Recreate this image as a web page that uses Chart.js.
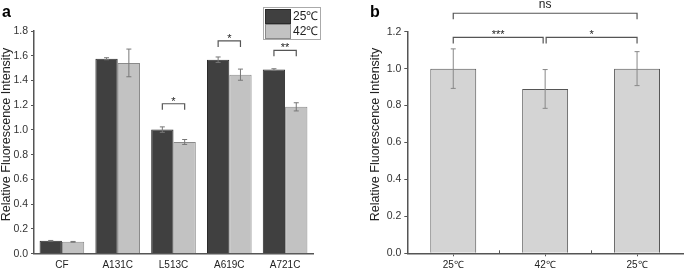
<!DOCTYPE html>
<html>
<head>
<meta charset="utf-8">
<script src="https://cdn.jsdelivr.net/npm/chart.js@4.4.1/dist/chart.umd.min.js"></script>
<style>
  body { margin: 0; background: #fff; }
  #wrap { position: relative; width: 685px; height: 270px; }
  canvas { position: absolute; top: 0; }
  #chartA { left: 0; }
  #chartB { left: 340px; }
</style>
</head>
<body>
<div id="wrap">
  <canvas id="chartA" width="340" height="270"></canvas>
  <canvas id="chartB" width="345" height="270"></canvas>
</div>
<script>
// panel a
const mutants = ['CF', 'A131C', 'L513C', 'A619C', 'A721C'];
const mean25 = [0.104, 1.576, 1.003, 1.568, 1.488];
const mean42 = [0.096, 1.542, 0.903, 1.447, 1.187];
const err25 = [0.003, 0.008, 0.022, 0.022, 0.007];
const err42 = [0.003, 0.112, 0.02, 0.045, 0.033];
const sigA = ['*', '*', '**'];           // L513C, A619C, A721C

// panel b
const temps = ['25\u2103', '42\u2103', '25\u2103'];
const meanB = [1.0, 0.89, 1.0];
const errB = [0.107, 0.105, 0.092];
const sigB = ['***', '*', 'ns'];

const yTitle = 'Relative Fluorescence Intensity';

Chart.defaults.font.family = '"Liberation Sans", Arial, sans-serif';
Chart.defaults.color = '#333';

const errorBars = {
  id: 'errorBars',
  afterDatasetsDraw(chart, args, opts) {
    const ctx = chart.ctx;
    const y = chart.scales.y;
    chart.data.datasets.forEach((ds, i) => {
      const meta = chart.getDatasetMeta(i);
      meta.data.forEach((bar, j) => {
        const e = ds.errors[j];
        const top = y.getPixelForValue(ds.data[j] + e);
        const bot = y.getPixelForValue(ds.data[j] - e);
        ctx.save();
        ctx.strokeStyle = opts.color;
        ctx.lineWidth = 1;
        ctx.beginPath();
        ctx.moveTo(bar.x, top); ctx.lineTo(bar.x, bot);
        ctx.moveTo(bar.x - opts.cap, top); ctx.lineTo(bar.x + opts.cap, top);
        ctx.moveTo(bar.x - opts.cap, bot); ctx.lineTo(bar.x + opts.cap, bot);
        ctx.stroke();
        ctx.restore();
      });
    });
  }
};

// significance brackets, levels given in y-axis units
const brackets = {
  id: 'brackets',
  afterDraw(chart, args, opts) {
    const ctx = chart.ctx;
    const y = chart.scales.y;
    ctx.save();
    ctx.strokeStyle = '#555';
    ctx.lineWidth = 1.2;
    ctx.fillStyle = '#222';
    ctx.textAlign = 'center';
    ctx.textBaseline = 'alphabetic';
    opts.items.forEach(b => {
      const x1 = chart.getDatasetMeta(b.from[0]).data[b.from[1]].x + (b.dx1 || 0);
      const x2 = chart.getDatasetMeta(b.to[0]).data[b.to[1]].x + (b.dx2 || 0);
      const top = y.getPixelForValue(b.level);
      ctx.beginPath();
      ctx.moveTo(x1, top + b.drop); ctx.lineTo(x1, top);
      ctx.lineTo(x2, top); ctx.lineTo(x2, top + b.drop);
      ctx.stroke();
      ctx.font = (b.size || 11) + 'px "Liberation Sans", Arial';
      ctx.fillText(b.label, (x1 + x2) / 2, top - b.gap);
    });
    ctx.restore();
  }
};

const boxLegend = {
  id: 'boxLegend',
  afterDraw(chart) {
    const ctx = chart.ctx;
    ctx.save();
    ctx.strokeStyle = '#aaa';
    ctx.lineWidth = 1;
    ctx.strokeRect(263.5, 7.5, 57, 32);
    chart.data.datasets.forEach((ds, i) => {
      const top = 9.5 + i * 15;
      ctx.fillStyle = ds.backgroundColor;
      ctx.fillRect(265.5, top, 25, 14);
      ctx.strokeStyle = ds.borderColor;
      ctx.strokeRect(265.5, top, 25, 14);
      ctx.fillStyle = '#222';
      ctx.font = '12px "Liberation Sans", Arial';
      ctx.textBaseline = 'middle';
      ctx.textAlign = 'left';
      ctx.fillText(ds.label, 293, top + 7.5);
    });
    ctx.restore();
  }
};

// panel letter and rotated y title
const panelText = {
  id: 'panelText',
  afterDraw(chart, args, opts) {
    const ctx = chart.ctx;
    ctx.save();
    ctx.fillStyle = '#000';
    ctx.font = 'bold 16px "Liberation Sans", Arial';
    ctx.textBaseline = 'alphabetic';
    ctx.fillText(opts.letter, opts.lx, opts.ly);
    ctx.translate(opts.tx, opts.ty);
    ctx.rotate(-Math.PI / 2);
    ctx.fillStyle = '#222';
    ctx.font = '12.5px "Liberation Sans", Arial';
    ctx.textAlign = 'center';
    ctx.fillText(yTitle, 0, 0);
    ctx.restore();
  }
};

// small up ticks at category boundaries (panel b)
const boundaryTicks = {
  id: 'boundaryTicks',
  afterDraw(chart, args, opts) {
    if (!opts.show) return;
    const ctx = chart.ctx;
    const x = chart.scales.x;
    const bottom = chart.chartArea.bottom;
    const step = x.getPixelForValue(1) - x.getPixelForValue(0);
    ctx.save();
    ctx.strokeStyle = '#555';
    ctx.lineWidth = 1;
    ctx.beginPath();
    for (let i = 0; i < x.ticks.length - 1; i++) {
      const px = Math.round(x.getPixelForValue(i) + step / 2) + 0.5;
      ctx.moveTo(px, bottom); ctx.lineTo(px, bottom - 3);
    }
    ctx.stroke();
    ctx.restore();
  }
};

function yAxis(max, width) {
  return {
    min: 0, max: max,
    ticks: { stepSize: 0.2, padding: 3, font: { size: 10.5 }, color: '#333',
      callback: v => Number(v).toFixed(1) },
    grid: { drawOnChartArea: false, tickLength: 3, color: '#555', lineWidth: 1 },
    border: { color: '#555', width: 1.5 },
    afterFit(s) { s.width = width; }
  };
}

new Chart(document.getElementById('chartA'), {
  type: 'bar',
  data: {
    labels: mutants,
    datasets: [
      { label: '25\u2103', data: mean25, errors: err25, backgroundColor: '#404040', borderColor: '#2a2a2a', borderWidth: 1 },
      { label: '42\u2103', data: mean42, errors: err42, backgroundColor: '#c2c2c2', borderColor: '#8a8a8a', borderWidth: 1 }
    ]
  },
  options: {
    responsive: false,
    animation: false,
    categoryPercentage: 0.8,
    barPercentage: 1.0,
    layout: { padding: { top: 31, right: 27, left: 0, bottom: 0 } },
    scales: {
      x: {
        ticks: { padding: 4, font: { size: 10 }, color: '#222' },
        grid: { display: true, drawOnChartArea: false, tickLength: 2, color: 'rgba(0,0,0,0)' },
        border: { color: '#555', width: 1.5 },
        afterFit(s) { s.height = 16.3; }
      },
      y: yAxis(1.8, 34)
    },
    plugins: {
      legend: { display: false },
      tooltip: { enabled: false },
      errorBars: { color: '#777', cap: 2.5 },
      brackets: { items: [
        { from: [0, 2], to: [1, 2], level: 1.212, drop: 6, gap: -1, label: sigA[0] },
        { from: [0, 3], to: [1, 3], level: 1.72, drop: 6, gap: -1, label: sigA[1] },
        { from: [0, 4], to: [1, 4], level: 1.644, drop: 6, gap: -1, label: sigA[2] }
      ] },
      panelText: { letter: 'a', lx: 2, ly: 17, tx: 10, ty: 134.5 },
      boundaryTicks: { show: false }
    }
  },
  plugins: [errorBars, brackets, boxLegend, panelText, boundaryTicks]
});

new Chart(document.getElementById('chartB'), {
  type: 'bar',
  data: {
    labels: temps,
    datasets: [
      { label: 'b', data: meanB, errors: errB, backgroundColor: '#d4d4d4', borderColor: '#555', borderWidth: 1 }
    ]
  },
  options: {
    responsive: false,
    animation: false,
    categoryPercentage: 1.0,
    barPercentage: 0.5,
    layout: { padding: { top: 31.7, right: 2, left: 0, bottom: 0 } },
    scales: {
      x: {
        ticks: { padding: 3, font: { size: 10 }, color: '#222' },
        grid: { offset: false, drawOnChartArea: false, tickLength: 3, color: '#555' },
        border: { color: '#555', width: 1.5 },
        afterFit(s) { s.height = 16.7; }
      },
      y: yAxis(1.2, 67.3)
    },
    plugins: {
      legend: { display: false },
      tooltip: { enabled: false },
      errorBars: { color: '#888', cap: 2.5 },
      brackets: { items: [
        { from: [0, 0], to: [0, 1], dx2: -2, level: 1.169, drop: 6, gap: -1, label: sigB[0] },
        { from: [0, 1], to: [0, 2], dx1: 1, level: 1.169, drop: 6, gap: -1, label: sigB[1] },
        { from: [0, 0], to: [0, 2], level: 1.30, drop: 6, gap: 5.5, size: 12, label: sigB[2] }
      ] },
      panelText: { letter: 'b', lx: 30, ly: 17, tx: 38.5, ty: 134.5 },
      boundaryTicks: { show: true }
    }
  },
  plugins: [errorBars, brackets, panelText, boundaryTicks]
});
</script>
</body>
</html>
